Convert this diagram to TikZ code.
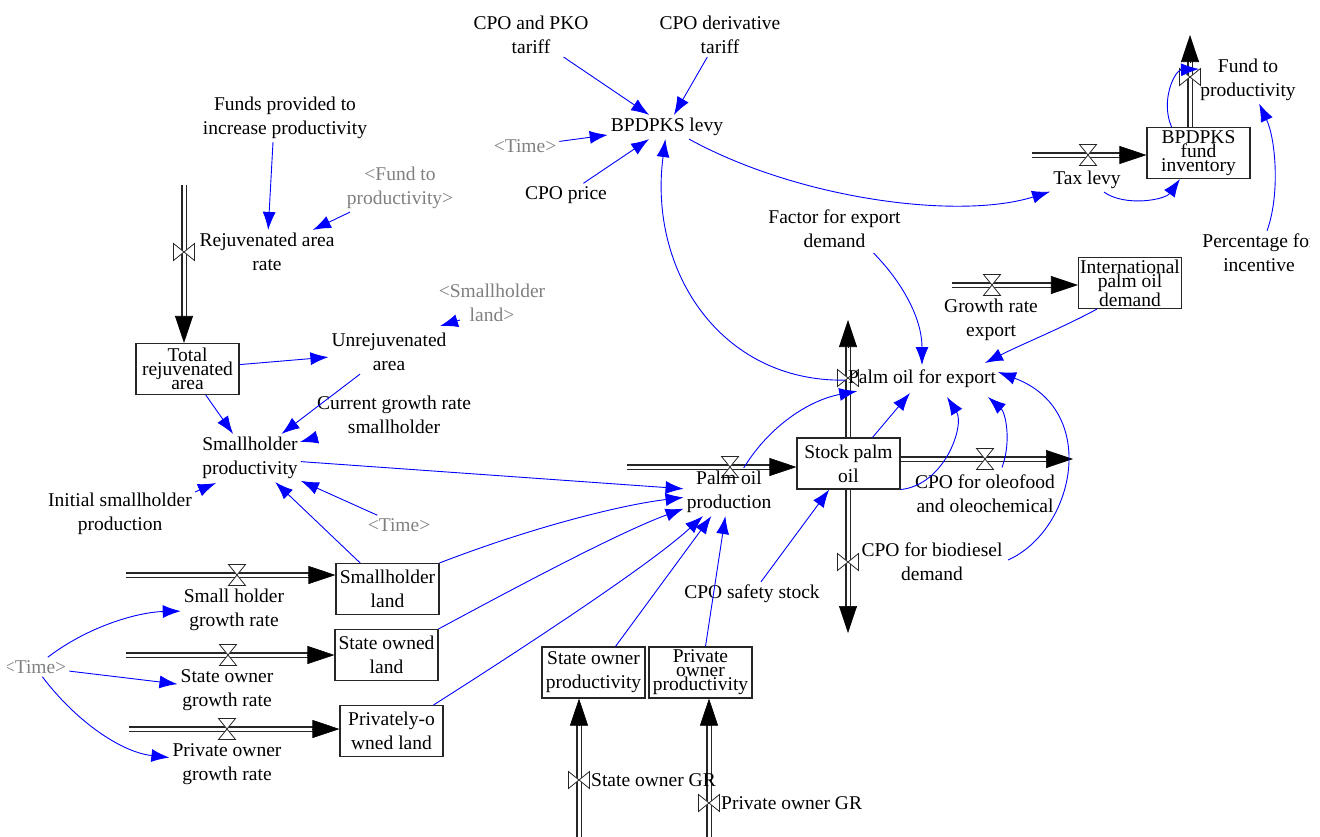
\documentclass[tikz,border=0pt]{standalone}
\usepackage{fontspec}
\setmainfont{Liberation Serif}
\usetikzlibrary{arrows.meta,calc}

\definecolor{linkblue}{RGB}{0,0,255}
\definecolor{shadowgray}{RGB}{128,128,128}
\newcommand{\diagfont}{\fontsize{19.5}{24}\selectfont}
\newcommand{\tightfont}{\fontsize{19.5}{14}\selectfont}

\tikzset{
  var/.style={align=center, inner sep=3pt, font=\diagfont},
  shadow/.style={var, text=shadowgray},
  stockbox/.style={draw=black!85, line width=1.1pt, minimum width=103pt,
    minimum height=51pt, inner sep=0pt, align=center, font=\diagfont},
  tightbox/.style={stockbox, font=\tightfont},
  link/.style={draw=linkblue, line width=0.9pt, -{Latex[length=18pt,width=13pt]}},
  pipe/.style={draw=black!85, double=white, double distance=3pt, line width=1.1pt},
  pipetip/.style={draw=black, line width=0.6pt, -{Triangle[length=27pt,width=18pt]}},
  hvalve/.pic={\draw[black!85, fill=white, line width=0.8pt]
    (-8.5,-10.5) -- (8.5,-10.5) -- (-8.5,10.5) -- (8.5,10.5) -- cycle;},
  vvalve/.pic={\draw[black!85, fill=white, line width=0.8pt]
    (-10.5,-8.5) -- (-10.5,8.5) -- (10.5,-8.5) -- (10.5,8.5) -- cycle;}
}
% a flow pipe from #1 to #2 with its arrow head at #2
\newcommand{\flowpipe}[2]{%
  \draw[pipe, shorten >=20pt] (#1) -- (#2);
  \draw[pipetip] ($(#2)!27pt!(#1)$) -- (#2);}

\begin{document}
\begin{tikzpicture}[x=1pt, y=-1pt]
\useasboundingbox (0,0) rectangle (1320,836);
\clip (7,0) rectangle (1309,836);

% ---------- stocks ----------
\node[tightbox] (fundinv) at (1198.5,153) {BPDPKS\\fund\\inventory};
\node[tightbox] (intl) at (1130,283) {International\\palm oil\\demand};
\node[tightbox] (totrej) at (187.5,369) {Total\\rejuvenated\\area};
\node[stockbox] (stock) at (848.5,463.5) {Stock palm\\oil};
\node[stockbox] (shland) at (387.5,589) {Smallholder\\land};
\node[stockbox] (stland) at (386.5,655) {State owned\\land};
\node[stockbox] (prland) at (391.5,731) {Privately-o\\wned land};
\node[stockbox] (stprod) at (593.5,672.5) {State owner\\productivity};
\node[tightbox] (prprod) at (700.5,672.5) {Private\\owner\\productivity};

% ---------- flow pipe ends ----------
\coordinate (foend) at (1190,35);
\coordinate (taxsrc) at (1032,155);
\coordinate (gesrc) at (952,285);
\coordinate (rrsrc) at (184,185);
\coordinate (ppsrc) at (627,467);
\coordinate (poend) at (848,320);
\coordinate (olend) at (1073,459);
\coordinate (bdend) at (848,633);
\coordinate (shsrc) at (126,575);
\coordinate (stsrc) at (126,655);
\coordinate (prsrc) at (129,729);
\coordinate (sgsrc) at (579,840);
\coordinate (pgsrc) at (709,840);

% ---------- flows ----------
\flowpipe{foend |- fundinv.north}{foend}
\flowpipe{taxsrc}{fundinv.west |- taxsrc}
\flowpipe{gesrc}{intl.west |- gesrc}
\flowpipe{rrsrc}{rrsrc |- totrej.north}
\flowpipe{ppsrc}{stock.west |- ppsrc}
\flowpipe{poend |- stock.north}{poend}
\flowpipe{stock.east |- olend}{olend}
\flowpipe{bdend |- stock.south}{bdend}
\flowpipe{shsrc}{shland.west |- shsrc}
\flowpipe{stsrc}{stland.west |- stsrc}
\flowpipe{prsrc}{prland.west |- prsrc}
\flowpipe{sgsrc}{sgsrc |- stprod.south}
\flowpipe{pgsrc}{pgsrc |- prprod.south}

% ---------- valves ----------
\coordinate (fovalve) at (1190,77);
\pic at (fovalve) {vvalve};
\pic at (1088,155) {hvalve};
\pic at (992,285) {hvalve};
\pic at (184,252) {vvalve};
\pic at (730,467) {hvalve};
\pic at (848,378) {vvalve};
\pic at (985,459) {hvalve};
\pic at (848,562) {vvalve};
\pic at (237,575) {hvalve};
\pic at (228,655) {hvalve};
\pic at (227,729) {hvalve};
\pic at (579,780) {vvalve};
\pic at (709,803) {vvalve};

% ---------- variables ----------
\node[var] (cpopko) at (531,35) {CPO and PKO\\tariff};
\node[var] (cpoderiv) at (720,35) {CPO derivative\\tariff};
\node[var] (levy) at (667,127) {BPDPKS levy};
\node[shadow] (time1) at (525,146) {<Time>};
\node[var] (cpoprice) at (566,195) {CPO price};
\node[var] (fundsprov) at (285,118) {Funds provided to\\increase productivity};
\node[shadow] (fundref) at (400,188) {<Fund to\\productivity>};
\node[var] (rejrate) at (267,252) {Rejuvenated area\\rate};
\node[shadow] (shlandref) at (492,303) {<Smallholder\\land>};
\node[var] (unrej) at (389,352) {Unrejuvenated\\area};
\node[var] (curgrowth) at (394,415) {Current growth rate\\smallholder};
\node[var] (shprod) at (250,458) {Smallholder\\productivity};
\node[var] (initsh) at (120,514) {Initial smallholder\\production};
\node[shadow] (time2) at (399,525) {<Time>};
\node[var] (shgrowth) at (234,610) {Small holder\\growth rate};
\node[shadow] (time3) at (35,667) {<Time>};
\node[var] (stgrowth) at (227,690) {State owner\\growth rate};
\node[var] (prgrowth) at (227,764) {Private owner\\growth rate};
\node[var] (poprod) at (729,492) {Palm oil\\production};
\node[var] (safety) at (752,594) {CPO safety stock};
\node[var] (poexport) at (922,379) {Palm oil for export};
\node[var] (factor) at (834.5,229) {Factor for export\\demand};
\node[var] (grexport) at (991,320) {Growth rate\\export};
\node[var] (oleo) at (985,493.5) {CPO for oleofood\\and oleochemical};
\node[var] (biodiesel) at (932,562) {CPO for biodiesel\\demand};
\node[var] (taxlevy) at (1087,180) {Tax levy};
\node[var] (fundprod) at (1248,79.5) {Fund to\\productivity};
\node[var] (pct) at (1259,253) {Percentage for\\incentive};
\node[var, anchor=west, inner sep=0pt] (stgr) at (591,780) {State owner GR};
\node[var, anchor=west, inner sep=0pt] (prgr) at (721,803) {Private owner GR};

% ---------- links ----------
\draw[link] (cpopko) -- (levy);
\draw[link] (cpoderiv) -- (levy);
\draw[link] (time1) -- (levy);
\draw[link] (cpoprice) -- (levy);
\draw[link] (levy) .. controls (800,200) and (960,220) .. (taxlevy);
\draw[link] (poexport) .. controls (720,382) and (648,270) .. (levy);
\draw[link] (taxlevy) .. controls (1125,207) and (1165,200) .. (fundinv);
\coordinate (fotip) at ([shift={(9,-8)}]fovalve);
\draw[link] (fundinv.136) .. controls (1160,100) and (1175,70) .. (fotip);
\draw[link] (pct) .. controls (1280,195) and (1276,140) .. (fundprod);

\draw[link] ([xshift=-12pt]fundsprov.south) -- (rejrate);
\draw[link] (fundref) -- (rejrate);
\draw[link] ([shift={(-32,17)}]shlandref.center) -- ([shift={(51,-26)}]unrej.center);
\draw[link] (totrej) -- (unrej);
\draw[link] (unrej) -- (shprod);
\draw[link] (totrej) -- (shprod);
\draw[link] ([shift={(-76,22)}]curgrowth.center) -- ([shift={(50,-16)}]shprod.center);
\draw[link] ([shift={(75,-22)}]initsh.center) -- ([shift={(-34,25)}]shprod.center);
\draw[link] (time2) -- (shprod);
\draw[link] (shland) -- (shprod);

\draw[link] (shprod) -- (poprod);
\draw[link] (shland.north east) .. controls (530,528) and (620,505) .. (poprod);
\draw[link] (stland.north east) .. controls (520,585) and (620,532) .. (poprod);
\draw[link] ([xshift=-10pt]prland.north east) .. controls (520,650) and (650,565) .. (poprod);
\draw[link] ([xshift=22pt]stprod.north) -- (poprod);
\draw[link] ([xshift=5pt]prprod.north) -- (poprod);
\draw[link] (safety) -- (stock);

\draw[link] (poprod) .. controls (770,425) and (810,400) .. (poexport);
\draw[link] ([xshift=24pt]stock.north) -- ([shift={(-12,14)}]poexport.center);
\draw[link] (stock.south east) .. controls (945,485) and (965,425) .. ([shift={(25,18)}]poexport.center);
\draw[link] ([shift={(17,-26)}]oleo.center) .. controls (1012,440) and (1005,412) .. ([shift={(66,18)}]poexport.center);
\draw[link] ([shift={(76,-2)}]biodiesel.center) .. controls (1075,530) and (1100,410) .. ([shift={(76,-7)}]poexport.center);
\draw[link] ([shift={(39,24)}]factor.center) .. controls (902,282) and (922,318) .. ([shift={(0,-14)}]poexport.center);
\draw[link] ([xshift=-33pt]intl.south) .. controls (1062,328) and (1020,345) .. ([shift={(63,-16)}]poexport.center);

\draw[link] (time3) .. controls (90,625) and (140,612) .. (shgrowth);
\draw[link] (time3) -- (stgrowth);
\draw[link] (time3) .. controls (75,720) and (120,752) .. (prgrowth);
\end{tikzpicture}
\end{document}
